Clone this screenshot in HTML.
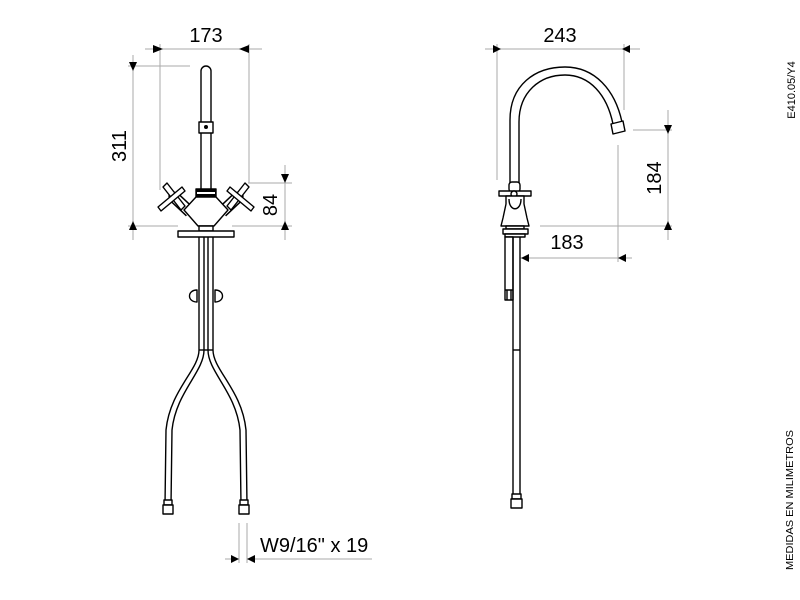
<!DOCTYPE html>
<html><head><meta charset="utf-8"><style>
html,body{margin:0;padding:0;background:#fff;}
svg{display:block;}
text{font-family:"Liberation Sans",sans-serif;fill:#000;}
</style></head><body>
<svg width="800" height="600" viewBox="0 0 800 600" xmlns="http://www.w3.org/2000/svg">
<g stroke="#aaa" stroke-width="1" fill="none">
<line x1="160" y1="44" x2="160" y2="190"/>
<line x1="249" y1="44" x2="249" y2="183"/>
<line x1="128" y1="66" x2="190" y2="66"/>
<line x1="128" y1="226" x2="178" y2="226"/>
<line x1="232" y1="226" x2="292" y2="226"/>
<line x1="248" y1="183" x2="292" y2="183"/>
<line x1="497" y1="44" x2="497" y2="180"/>
<line x1="624" y1="44" x2="624" y2="110"/>
<line x1="633" y1="130" x2="672" y2="130"/>
<line x1="540" y1="226" x2="672" y2="226"/>
<line x1="618" y1="145" x2="618" y2="262"/>
<line x1="239" y1="523" x2="239" y2="563"/>
<line x1="247" y1="523" x2="247" y2="563"/>
<line x1="247" y1="559" x2="372" y2="559"/>
<line x1="145" y1="49" x2="262" y2="49"/>
<line x1="133" y1="55" x2="133" y2="240"/>
<line x1="285" y1="165" x2="285" y2="240"/>
<line x1="485" y1="49" x2="640" y2="49"/>
<line x1="668" y1="110" x2="668" y2="240"/>
<line x1="520" y1="258" x2="632" y2="258"/>
<line x1="225" y1="559" x2="239" y2="559"/>
</g>
<g fill="#000">
<path d="M153,45 L163,49 L153,53z"/>
<path d="M239,49 L249,45 L249,53z"/>
<path d="M129,62 L137,62 L133,71z"/>
<path d="M129,230 L137,230 L133,221z"/>
<path d="M281,174 L289,174 L285,183z"/>
<path d="M281,230 L289,230 L285,221z"/>
<path d="M493,45 L501,49 L493,53z"/>
<path d="M622,49 L630,45 L630,53z"/>
<path d="M664,125 L672,125 L668,134z"/>
<path d="M664,230 L672,230 L668,221z"/>
<path d="M521,258 L529,254 L529,262z"/>
<path d="M618,258 L626,254 L626,262z"/>
<path d="M231,555 L239,559 L231,563z"/>
<path d="M247,559 L255,555 L255,563z"/>
</g>
<text x="206" y="42" font-size="20" text-anchor="middle">173</text>
<text x="560" y="42" font-size="20" text-anchor="middle">243</text>
<text x="567" y="249" font-size="20" text-anchor="middle">183</text>
<text x="260" y="552" font-size="20">W9/16" x 19</text>
<text transform="translate(126,146) rotate(-90)" font-size="20" text-anchor="middle">311</text>
<text transform="translate(277,205) rotate(-90)" font-size="20" text-anchor="middle">84</text>
<text transform="translate(661,178) rotate(-90)" font-size="20" text-anchor="middle">184</text>
<text transform="translate(795,90) rotate(-90)" font-size="11" text-anchor="middle">E410.05/Y4</text>
<text transform="translate(793,500) rotate(-90)" font-size="10" text-anchor="middle" textLength="140" lengthAdjust="spacingAndGlyphs">MEDIDAS EN MILIMETROS</text>

<!-- LEFT FAUCET -->
<g stroke-linecap="butt">
<line x1="190" y1="212" x2="173" y2="196" stroke="#000" stroke-width="12"/>
<line x1="190" y1="212" x2="173" y2="196" stroke="#fff" stroke-width="9"/>
<line x1="222" y1="212" x2="239" y2="196" stroke="#000" stroke-width="12"/>
<line x1="222" y1="212" x2="239" y2="196" stroke="#fff" stroke-width="9"/>
</g>
<g stroke="#000" stroke-width="1.4" fill="#fff" stroke-linejoin="round">
<path d="M201,190 L201,71 A5,5 0 0 1 211,71 L211,190"/>
<rect x="199" y="122" width="14" height="11"/>
<circle cx="206" cy="127" r="1.3" fill="#000"/>
<rect x="196" y="189" width="20" height="8" fill="#000"/>
<rect x="197" y="192" width="18" height="2" fill="#fff" stroke="none"/>
<path d="M196,197 L216,197 L228,210 L214,226 L198,226 L184,210z"/>
<circle cx="173" cy="196" r="4"/>
<circle cx="239" cy="196" r="4"/>
<path d="M163,187 L167,183 L185,206 L181,210z"/>
<path d="M158,207 L161,211 L185,191 L182,187z"/>
<path d="M249,187 L245,183 L227,206 L231,210z"/>
<path d="M254,207 L251,211 L227,191 L230,187z"/>
<rect x="199" y="226" width="14" height="5"/>
<rect x="178" y="231" width="56" height="6"/>
<path d="M199,237 L199,350 C199,370 170,390 166,430 L165,505 M204,237 L204,350 C204,372 176,392 172,430 L171,505" fill="none"/>
<path d="M208,237 L208,350 C208,372 236,392 240,430 L241,505 M213,237 L213,350 C213,370 242,390 246,430 L247,505" fill="none"/>
<line x1="199" y1="350" x2="213" y2="350"/>
<path d="M197,290 C187,290 187,302 197,302z M215,290 C225,290 225,302 215,302z"/>
<rect x="164" y="500" width="8" height="5"/><rect x="163" y="505" width="10" height="9"/>
<rect x="240" y="500" width="8" height="5"/><rect x="239" y="505" width="10" height="9"/>
</g>

<!-- RIGHT FAUCET -->
<g stroke="#000" stroke-width="1.4" fill="#fff" stroke-linejoin="round">
<path d="M510,185 L510,120 C510,85 535,67 565,67 C595,67 615,90 622,122" fill="none"/>
<path d="M519,185 L519,122 C519,92 540,75 565,75 C590,75 607,95 613,124" fill="none"/>
<path d="M611,124 L623,121 L625,131 L613,134z"/>
<rect x="509" y="182" width="11" height="10" rx="3"/>
<rect x="499" y="191" width="32" height="5"/>
<circle cx="514" cy="194" r="3"/>
<path d="M506,196 L524,196 L524,204 L527,218 L529,226 L501,226 L503,218 L506,204z"/>
<path d="M509,199 C509,212 521,212 521,199" fill="none"/>
<rect x="506" y="226" width="18" height="3"/>
<rect x="503" y="229" width="25" height="5"/>
<rect x="505" y="234" width="20" height="3"/>
<rect x="505" y="237" width="8" height="63"/>
<path d="M505,290 L513,290 M507,290 L507,300 M511,290 L511,300" fill="none"/>
<path d="M513,237 L513,495 M520,237 L520,495" fill="none"/>
<line x1="513" y1="350" x2="520" y2="350"/>
<rect x="512" y="494" width="9" height="5"/><rect x="511" y="499" width="11" height="9"/>
</g>
</svg>
</body></html>
